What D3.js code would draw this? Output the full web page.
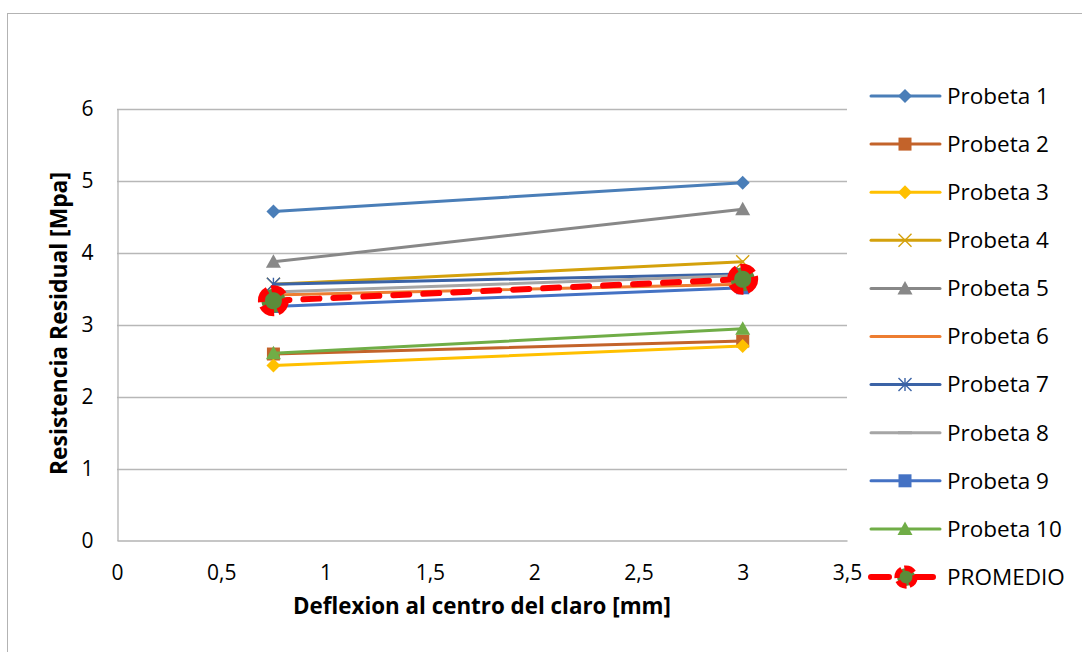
<!DOCTYPE html>
<html>
<head>
<meta charset="utf-8">
<script src="https://cdn.jsdelivr.net/npm/d3@7"></script>
<style>
  html, body { margin: 0; padding: 0; background: #fff; }
  svg { display: block; }
  text { font-family: "Open Sans", "Noto Sans", sans-serif; fill: #000; }
</style>
</head>
<body>
<svg id="chart" width="1082" height="652"></svg>
<script>
// Deflection points (mm)
const deflexion = [0.75, 3];

// Residual strength per specimen (MPa) at each deflection
const probeta1 = [4.57, 4.97];
const probeta2 = [2.59, 2.77];
const probeta3 = [2.43, 2.70];
const probeta4 = [3.56, 3.87];
const probeta5 = [3.87, 4.60];
const probeta6 = [3.41, 3.56];
const probeta7 = [3.56, 3.70];
const probeta8 = [3.45, 3.68];
const probeta9 = [3.25, 3.51];
const probeta10 = [2.60, 2.94];
const promedio = [3.33, 3.63];

const seriesNames = ["Probeta 1", "Probeta 2", "Probeta 3", "Probeta 4", "Probeta 5",
  "Probeta 6", "Probeta 7", "Probeta 8", "Probeta 9", "Probeta 10", "PROMEDIO"];

const xTicks = [0, 0.5, 1, 1.5, 2, 2.5, 3, 3.5];
const xTickLabels = ["0", "0,5", "1", "1,5", "2", "2,5", "3", "3,5"];
const yTicks = [0, 1, 2, 3, 4, 5, 6];

const series = [
  { name: seriesNames[0], values: probeta1, color: "#4a7eb8", marker: "diamond" },
  { name: seriesNames[1], values: probeta2, color: "#c3632a", marker: "square" },
  { name: seriesNames[2], values: probeta3, color: "#ffc000", marker: "diamond" },
  { name: seriesNames[3], values: probeta4, color: "#d4a10c", marker: "x" },
  { name: seriesNames[4], values: probeta5, color: "#888888", marker: "triangle" },
  { name: seriesNames[5], values: probeta6, color: "#ed7d31", marker: "none" },
  { name: seriesNames[6], values: probeta7, color: "#3b63a6", marker: "asterisk" },
  { name: seriesNames[7], values: probeta8, color: "#a5a5a5", marker: "dash" },
  { name: seriesNames[8], values: probeta9, color: "#4472c4", marker: "square" },
  { name: seriesNames[9], values: probeta10, color: "#70ad47", marker: "triangle" },
  { name: seriesNames[10], values: promedio, color: "#ff0000", marker: "ring", dashed: true }
];

const svg = d3.select("#chart");
const FONT = "'Open Sans', 'Noto Sans', sans-serif";

// outer chart frame
svg.append("rect")
  .attr("x", 7.5).attr("y", 13.5)
  .attr("width", 1090).attr("height", 660)
  .attr("fill", "none").attr("stroke", "#b3b3b3").attr("stroke-width", 1);

const plot = { left: 117, right: 847, top: 108.5, bottom: 540.5 };

const x = d3.scaleLinear().domain([0, 3.5]).range([plot.left, plot.right]);
const y = d3.scaleLinear().domain([0, 6]).range([plot.bottom, plot.top]);

// horizontal gridlines
svg.append("g").selectAll("line")
  .data(yTicks.filter(d => d > 0))
  .join("line")
  .attr("x1", plot.left).attr("x2", plot.right)
  .attr("y1", d => Math.round(y(d)) + 0.5).attr("y2", d => Math.round(y(d)) + 0.5)
  .attr("stroke", "#b7b7b7").attr("stroke-width", 1.3);

// axes
const yAxis = svg.append("g")
  .attr("transform", `translate(${plot.left + 0.5},0)`)
  .call(d3.axisLeft(y).tickValues(yTicks).tickSize(0).tickPadding(24).tickFormat(d3.format("d")));
const xAxis = svg.append("g")
  .attr("transform", `translate(0,${plot.bottom})`)
  .call(d3.axisBottom(x).tickValues(xTicks).tickSize(0).tickPadding(25)
    .tickFormat((d, i) => xTickLabels[i]));
[xAxis, yAxis].forEach(a => {
  a.select(".domain").attr("stroke", "#b3b3b3").attr("stroke-width", 1.3);
  a.selectAll("text").style("font-size", "21px").style("font-family", FONT).attr("fill", "#000");
});
yAxis.selectAll("text").attr("dy", "0.35em");

// axis titles, sized to span their intended width
function fitTitle(sel, width) {
  const w = sel.node().getComputedTextLength();
  sel.style("font-size", (20 * width / w).toFixed(2) + "px");
}
const xTitle = svg.append("text")
  .attr("x", (plot.left + plot.right) / 2).attr("y", 614)
  .attr("text-anchor", "middle")
  .style("font-size", "20px").style("font-weight", "bold")
  .text("Deflexion al centro del claro [mm]");
fitTitle(xTitle, 378);
const yTitle = svg.append("text")
  .attr("transform", `translate(67,${(plot.top + plot.bottom) / 2 - 1}) rotate(-90)`)
  .attr("text-anchor", "middle")
  .style("font-size", "20px").style("font-weight", "bold")
  .text("Resistencia Residual [Mpa]");
fitTitle(yTitle, 303);

// marker drawing helper
function drawMarker(g, type, color, cx, cy, scale) {
  const s = scale || 1;
  if (type === "diamond") {
    const r = 7 * s;
    g.append("path").attr("d", `M${cx},${cy - r}L${cx + r},${cy}L${cx},${cy + r}L${cx - r},${cy}Z`).attr("fill", color);
  } else if (type === "square") {
    const h = 6.5 * s;
    g.append("rect").attr("x", cx - h).attr("y", cy - h).attr("width", 2 * h).attr("height", 2 * h).attr("fill", color);
  } else if (type === "triangle") {
    const h = 7.5 * s;
    g.append("path").attr("d", `M${cx},${cy - h}L${cx + h},${cy + h * 0.8}L${cx - h},${cy + h * 0.8}Z`).attr("fill", color);
  } else if (type === "x") {
    const h = 6.5 * s;
    g.append("path").attr("d", `M${cx - h},${cy - h}L${cx + h},${cy + h}M${cx - h},${cy + h}L${cx + h},${cy - h}`)
      .attr("stroke", color).attr("stroke-width", 1.4).attr("fill", "none");
  } else if (type === "asterisk") {
    const h = 6.5 * s;
    g.append("path").attr("d", `M${cx - h},${cy - h}L${cx + h},${cy + h}M${cx - h},${cy + h}L${cx + h},${cy - h}M${cx},${cy - h}L${cx},${cy + h}`)
      .attr("stroke", color).attr("stroke-width", 1.4).attr("fill", "none");
  } else if (type === "dash") {
    g.append("line").attr("x1", cx - 7 * s).attr("x2", cx + 7 * s).attr("y1", cy).attr("y2", cy)
      .attr("stroke", color).attr("stroke-width", 3);
  } else if (type === "ring") {
    g.append("circle").attr("cx", cx).attr("cy", cy).attr("r", 12 * s)
      .attr("fill", "#5b8c3a").attr("stroke", color).attr("stroke-width", 7 * s)
      .attr("stroke-dasharray", `${14 * s},${4 * s}`);
  }
}

const line = d3.line().x(d => x(d[0])).y(d => y(d[1]));
const plotG = svg.append("g");

series.forEach(s => {
  const pts = deflexion.map((d, i) => [d, s.values[i]]);
  const g = plotG.append("g");
  g.append("path").attr("d", line(pts))
    .attr("fill", "none").attr("stroke", s.color)
    .attr("stroke-width", s.dashed ? 6 : 3)
    .attr("stroke-linecap", "round")
    .attr("stroke-dasharray", s.dashed ? "16,14" : null);
  pts.forEach(p => drawMarker(g, s.marker, s.color, x(p[0]), y(p[1]), 1));
});

// legend
const legend = svg.append("g");
const legTop = 96, legStep = 48.1;
series.forEach((s, i) => {
  const cy = legTop + i * legStep;
  const g = legend.append("g");
  if (s.dashed) {
    g.append("line").attr("x1", 871).attr("x2", 939).attr("y1", cy).attr("y2", cy)
      .attr("stroke", s.color).attr("stroke-width", 6).attr("stroke-linecap", "round")
      .attr("stroke-dasharray", "18,26");
    drawMarker(g, s.marker, s.color, 906, cy, 0.75);
  } else {
    g.append("line").attr("x1", 871).attr("x2", 940).attr("y1", cy).attr("y2", cy)
      .attr("stroke", s.color).attr("stroke-width", 3).attr("stroke-linecap", "round");
    drawMarker(g, s.marker, s.color, 905, cy, 1);
  }
  g.append("text").attr("x", 947).attr("y", cy).attr("dy", "0.35em")
    .style("font-size", "22.5px").text(s.name);
});
</script>
</body>
</html>
